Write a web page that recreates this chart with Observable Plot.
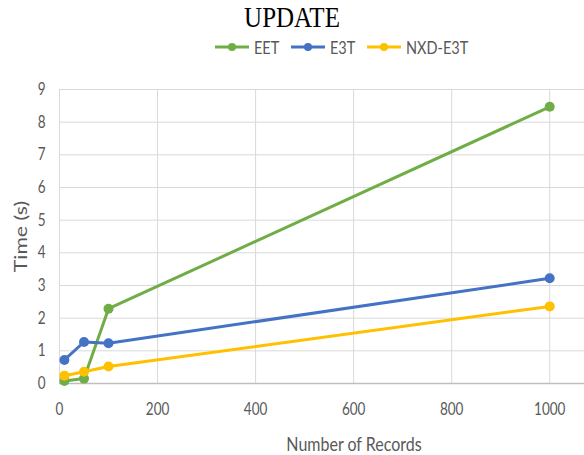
<!DOCTYPE html>
<html>
<head>
<meta charset="utf-8">
<script src="https://cdn.jsdelivr.net/npm/d3@7"></script>
<script src="https://cdn.jsdelivr.net/npm/@observablehq/plot@0.6"></script>
<style>
  body { margin: 0; background: #fff; width: 584px; overflow: hidden; }
  #head { position: relative; width: 584px; height: 57px; }
  #title { position: absolute; left: 0; width: 584px; top: 2px; text-align: center;
    font-family: "Liberation Serif", "DejaVu Serif", serif; font-size: 25px; color: #000; line-height: 30px;
    transform: scaleY(1.2); }
  .leg { position: absolute; top: 4px; height: 20px; display: flex; align-items: center;
    font-family: Lato, sans-serif; font-size: 14.5px; color: #595959; }
  .leg span { display: inline-block; transform: scaleY(1.25); }
  #legend { position: absolute; left: 0; top: 33px; width: 584px; height: 24px; }
  svg { display: block; }
</style>
</head>
<body>
<div id="head">
  <div id="title">UPDATE</div>
  <div id="legend"></div>
</div>
<div id="chart"></div>
<script>
const records = [10, 50, 100, 1000];
const eet = [0.08, 0.15, 2.29, 8.47];
const e3t = [0.72, 1.27, 1.23, 3.22];
const nxdE3t = [0.24, 0.36, 0.52, 2.36];
const seriesNames = ["EET", "E3T", "NXD-E3T"];
const seriesColors = ["#70ad47", "#4472c4", "#ffc000"];
const xTicks = [0, 200, 400, 600, 800, 1000];
const yTicks = [0, 1, 2, 3, 4, 5, 6, 7, 8, 9];

const seriesValues = [eet, e3t, nxdE3t];
const data = [];
seriesNames.forEach((name, i) => {
  records.forEach((r, j) => data.push({series: name, records: r, time: seriesValues[i][j]}));
});

// legend
const legendPos = [215, 291, 367];
const legend = document.getElementById("legend");
seriesNames.forEach((name, i) => {
  const item = document.createElement("div");
  item.className = "leg";
  item.style.left = legendPos[i] + "px";
  item.innerHTML = `<svg width="36" height="20" style="margin-right:3px"><line x1="0" x2="34" y1="10" y2="10" stroke="${seriesColors[i]}" stroke-width="3"/><circle cx="17" cy="10" r="4" fill="${seriesColors[i]}"/></svg><span>${name}</span>`;
  legend.appendChild(item);
});

const font = 'Lato, sans-serif';
const chart = Plot.plot({
  width: 584,
  height: 398,
  marginTop: 32,
  marginBottom: 72,
  marginLeft: 59,
  marginRight: 0,
  style: {fontFamily: font, fontSize: "13px", color: "#595959", background: "#fff"},
  x: {domain: [0, 1071]},
  y: {domain: [0, 9]},
  color: {domain: seriesNames, range: seriesColors},
  marks: [
    Plot.gridY(yTicks, {stroke: "#d9d9d9", strokeOpacity: 1, strokeWidth: 1}),
    Plot.gridX(xTicks, {stroke: "#d9d9d9", strokeOpacity: 1, strokeWidth: 1}),
    Plot.ruleY([0], {stroke: "#bfbfbf", strokeWidth: 1.5}),
    Plot.axisY(yTicks, {tickSize: 0, tickPadding: 14, label: "Time (s)", labelAnchor: "center", labelArrow: "none", labelOffset: 45, fontSize: 13.5, fill: "#595959"}),
    Plot.axisX(xTicks, {tickSize: 0, tickPadding: 20, tickFormat: d3.format("d"), label: "Number of Records", labelAnchor: "center", labelArrow: "none", labelOffset: 67, fontSize: 13.5, fill: "#595959"}),
    Plot.line(data, {x: "records", y: "time", stroke: "series", strokeWidth: 3}),
    Plot.dot(data, {x: "records", y: "time", fill: "series", r: 5})
  ]
});

// the reference's text is drawn slightly stretched vertically
function stretch(t, sx, sy, pre = "") {
  const tr = t.getAttribute("transform") || "";
  t.setAttribute("transform", `${tr} ${pre} scale(${sx},${sy})`);
}
chart.querySelectorAll('[aria-label="x-axis tick label"] text, [aria-label="y-axis tick label"] text').forEach(t => stretch(t, 1, 1.25));
chart.querySelectorAll('[aria-label="x-axis label"]').forEach(g => {
  g.setAttribute("font-size", "16px");
  g.querySelectorAll("text").forEach(t => { t.setAttribute("font-size", "16px"); stretch(t, 1, 1.25, "translate(32,0)"); });
});
chart.querySelectorAll('[aria-label="y-axis label"]').forEach(g => {
  g.setAttribute("font-size", "17px");
  g.querySelectorAll("text").forEach(t => { t.setAttribute("font-size", "17px"); stretch(t, 1.25, 1); });
});
document.getElementById("chart").appendChild(chart);
</script>
</body>
</html>
